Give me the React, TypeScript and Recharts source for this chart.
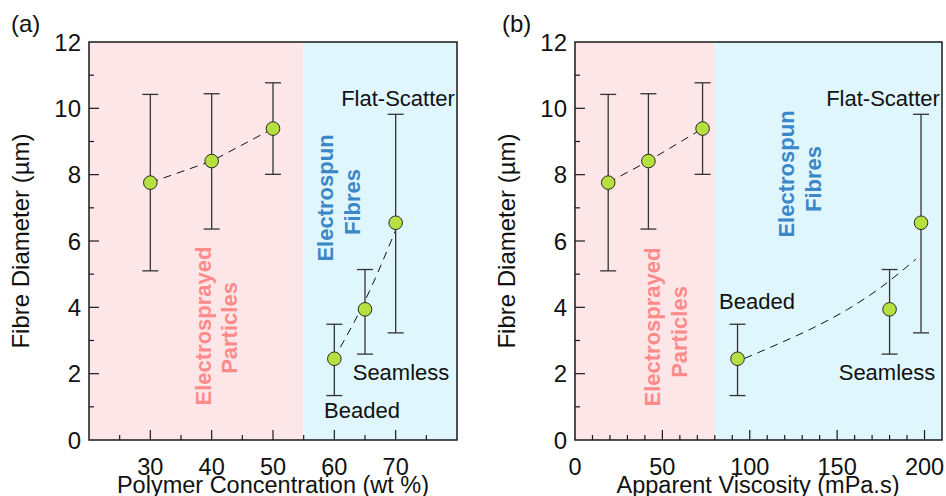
import { ComposedChart, Scatter, Line, XAxis, YAxis, ErrorBar, ReferenceArea } from 'recharts';

// measured values (same samples in both panels)
const concentration = [30, 40, 50, 60, 65, 70];
const viscosity = [19, 42, 73, 93, 180, 198];
const diameter = [7.76, 8.41, 9.39, 2.45, 3.94, 6.55];
const errLow = [2.66, 2.05, 1.38, 1.11, 1.35, 3.32];
const errHigh = [2.66, 2.03, 1.38, 1.04, 1.2, 3.27];

// dashed trend curves through the electrospun points
const fitConcX = [61, 65, 70];
const fitConcY = [2.8, 4.2, 6.33];
const fitViscX = [97, 116, 137, 156, 175, 195];
const fitViscY = [2.46, 2.89, 3.4, 3.94, 4.6, 5.45];

const yTicks = [0, 1, 2, 3, 4, 5, 6, 7, 8, 9, 10, 11, 12];
const concTicks = [25, 30, 35, 40, 45, 50, 55, 60, 65, 70, 75];
const viscTicks = [0, 10, 20, 30, 40, 50, 60, 70, 80, 90, 100, 110, 120, 130, 140, 150, 160, 170, 180, 190, 200];

const FONT = '"Liberation Sans", Arial, Helvetica, sans-serif';
const INK = '#1a1a1a';
const PINK = '#FDE6E8';
const BLUE = '#DEF6FC';
const MARKER = '#B5E03F';

const makeYTick = () => (props: any) => {
  const { x, y, payload } = props;
  const v = payload.value;
  const major = v % 2 === 0;
  const ax = x + 8;
  return (
    <g>
      {v !== 0 && v !== 12 && (
        <line x1={ax} x2={ax + (major ? 10 : 5)} y1={y} y2={y} stroke={INK} strokeWidth={1.2} />
      )}
      {major && (
        <text x={x} y={y} dy="0.36em" textAnchor="end" fontFamily={FONT} fontSize={24} fill="#111">
          {v}
        </text>
      )}
    </g>
  );
};

const makeXTick = (majorStep: number, edge: number) => (props: any) => {
  const { x, y, payload } = props;
  const v = payload.value;
  const major = v % majorStep === 0;
  return (
    <g>
      {v !== edge && (
        <line x1={x} x2={x} y1={y} y2={y - (major ? 10 : 5)} stroke={INK} strokeWidth={1.2} />
      )}
      {major && (
        <text x={x} y={y + 35} textAnchor="middle" fontFamily={FONT} fontSize={23.5} fill="#111">
          {v}
        </text>
      )}
    </g>
  );
};

const Dot = (p: any) => (
  <circle cx={p.cx} cy={p.cy} r={6.8} fill={MARKER} stroke="#2a2a2a" strokeWidth={1} />
);

interface PanelProps {
  xs: number[];
  xDomain: [number, number];
  split: number;
  ticks: number[];
  majorStep: number;
  fitX: number[];
  fitY: number[];
  marginLeft: number;
  marginRight: number;
}

function Panel({ xs, xDomain, split, ticks, majorStep, fitX, fitY, marginLeft, marginRight }: PanelProps) {
  const points = xs.map((x, i) => ({ x, y: diameter[i], err: [errLow[i], errHigh[i]] }));
  const particles = points.slice(0, 3);
  const fit = fitX.map((x, i) => ({ x, y: fitY[i] }));
  return (
    <ComposedChart
      width={470}
      height={496}
      margin={{ top: 42, right: marginRight, bottom: 16, left: marginLeft }}
    >
      <ReferenceArea x1={xDomain[0]} x2={split} y1={0} y2={12} fill={PINK} fillOpacity={1} stroke="none" />
      <ReferenceArea x1={split} x2={xDomain[1]} y1={0} y2={12} fill={BLUE} fillOpacity={1} stroke="none" />
      <ReferenceArea
        x1={xDomain[0]}
        x2={xDomain[1]}
        y1={0}
        y2={12}
        fill="none"
        stroke={INK}
        strokeWidth={1.5}
      />
      <XAxis
        type="number"
        dataKey="x"
        domain={xDomain}
        ticks={ticks}
        interval={0}
        allowDataOverflow
        height={40}
        tickSize={0}
        tickMargin={0}
        axisLine={false}
        tick={makeXTick(majorStep, xDomain[0])}
      />
      <YAxis
        type="number"
        dataKey="y"
        domain={[0, 12]}
        ticks={yTicks}
        interval={0}
        allowDataOverflow
        width={60}
        tickSize={0}
        tickMargin={8}
        axisLine={false}
        tick={makeYTick()}
      />
      <Line
        data={particles}
        dataKey="y"
        type="linear"
        stroke="#111"
        strokeWidth={1}
        strokeDasharray="8 6"
        dot={false}
        isAnimationActive={false}
      />
      <Line
        data={fit}
        dataKey="y"
        type="monotone"
        stroke="#111"
        strokeWidth={1}
        strokeDasharray="8 6"
        dot={false}
        isAnimationActive={false}
      />
      <Scatter data={points} shape={Dot} isAnimationActive={false}>
        <ErrorBar dataKey="err" direction="y" width={8} stroke="#333" strokeWidth={1.3} />
      </Scatter>
    </ComposedChart>
  );
}

const T = (props: any) => <text fontFamily={FONT} fill="#111" {...props} />;

const Vert = ({ x, y, children, color, size = 22, bold = false }: any) => (
  <text
    transform={`translate(${x},${y}) rotate(-90)`}
    textAnchor="middle"
    fontFamily={FONT}
    fontSize={size}
    fontWeight={bold ? 'bold' : 'normal'}
    fill={color}
  >
    {children}
  </text>
);

export default function App() {
  return (
    <div style={{ position: 'absolute', left: 0, top: 0, width: 946, height: 496, background: '#fff' }}>
      <div style={{ position: 'absolute', left: 0, top: 0 }}>
        <Panel
          xs={concentration}
          xDomain={[20, 80]}
          split={55}
          ticks={concTicks}
          majorStep={10}
          fitX={fitConcX}
          fitY={fitConcY}
          marginLeft={29}
          marginRight={13}
        />
      </div>
      <div style={{ position: 'absolute', left: 476, top: 0 }}>
        <Panel
          xs={viscosity}
          xDomain={[0, 210]}
          split={80}
          ticks={viscTicks}
          majorStep={50}
          fitX={fitViscX}
          fitY={fitViscY}
          marginLeft={39}
          marginRight={4}
        />
      </div>
      <svg
        width={946}
        height={496}
        style={{ position: 'absolute', left: 0, top: 0, pointerEvents: 'none' }}
      >
        {/* panel (a) */}
        <T x={11} y={32} fontSize={24}>(a)</T>
        <Vert x={29} y={241} size={24} color="#111">Fibre Diameter (µm)</Vert>
        <T x={273} y={493} fontSize={23.5} textAnchor="middle">Polymer Concentration (wt %)</T>
        <Vert x={211} y={326} bold color="#FF8A8A">Electrosprayed</Vert>
        <Vert x={237} y={328} bold color="#FF8A8A">Particles</Vert>
        <Vert x={333} y={198} bold color="#3C87C8">Electrospun</Vert>
        <Vert x={360} y={202} bold color="#3C87C8">Fibres</Vert>
        <T x={398} y={106} fontSize={22} textAnchor="middle">Flat-Scatter</T>
        <T x={401} y={380} fontSize={22} textAnchor="middle">Seamless</T>
        <T x={362} y={418} fontSize={22} textAnchor="middle">Beaded</T>

        {/* panel (b) */}
        <T x={502} y={32} fontSize={24}>(b)</T>
        <Vert x={515} y={241} size={24} color="#111">Fibre Diameter (µm)</Vert>
        <T x={758} y={493} fontSize={23.5} textAnchor="middle">Apparent Viscosity (mPa.s)</T>
        <Vert x={660} y={327} bold color="#FF8A8A">Electrosprayed</Vert>
        <Vert x={687} y={332} bold color="#FF8A8A">Particles</Vert>
        <Vert x={794} y={174} bold color="#3C87C8">Electrospun</Vert>
        <Vert x={821} y={179} bold color="#3C87C8">Fibres</Vert>
        <T x={883} y={106} fontSize={22} textAnchor="middle">Flat-Scatter</T>
        <T x={757} y={309} fontSize={22} textAnchor="middle">Beaded</T>
        <T x={887} y={380} fontSize={22} textAnchor="middle">Seamless</T>
      </svg>
    </div>
  );
}
